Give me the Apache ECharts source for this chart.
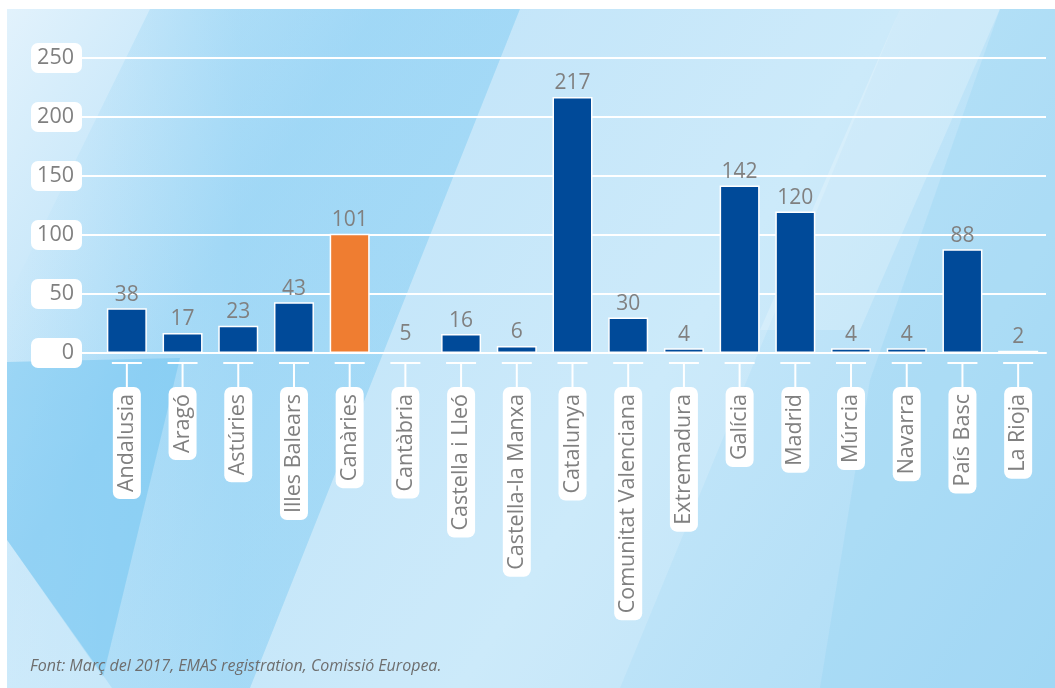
<!DOCTYPE html>
<html>
<head>
<meta charset="utf-8">
<script src="https://cdn.jsdelivr.net/npm/echarts@6/dist/echarts.min.js"></script>
<style>
html,body{margin:0;padding:0;background:#fff;}
#chart{width:1055px;height:688px;}
</style>
</head>
<body>
<div id="chart"></div>
<script>
const categories = ['Andalusia','Aragó','Astúries','Illes Balears','Canàries','Cantàbria','Castella i Lleó','Castella-la Manxa','Catalunya','Comunitat Valenciana','Extremadura','Galícia','Madrid','Múrcia','Navarra','País Basc','La Rioja'];
const values = [38, 17, 23, 43, 101, 5, 16, 6, 217, 30, 4, 142, 120, 4, 4, 88, 2];
const yTicks = [0, 50, 100, 150, 200, 250];
const highlighted = ['Canàries'];
const hiddenBars = ['Cantàbria'];
const sourceNote = 'Font: Març del 2017, EMAS registration, Comissió Europea.';

const BLUE = '#004a99';
const ORANGE = '#ef7d31';
const GREY = '#808080';
const FONT = '"Open Sans", "Noto Sans", sans-serif';

const barData = categories.map((c, i) => {
  const item = { value: values[i] };
  if (highlighted.includes(c)) item.itemStyle = { color: ORANGE };
  if (hiddenBars.includes(c)) item.itemStyle = { color: 'rgba(0,0,0,0)', borderColor: 'rgba(0,0,0,0)' };
  return item;
});

const chart = echarts.init(document.getElementById('chart'), null, { renderer: 'canvas' });
chart.setOption({
  animation: false,
  backgroundColor: '#ffffff',
  graphic: [
    { type: 'rect', z: -20, silent: true, shape: { x: 7, y: 9, width: 1048, height: 679 },
      style: { fill: new echarts.graphic.LinearGradient(0, 0, 1, 1, [
        { offset: 0, color: '#e2f2fc' }, { offset: 0.25, color: '#b6e0f8' },
        { offset: 0.6, color: '#c3e6f9' }, { offset: 1, color: '#a9daf5' }]) } },
    { type: 'polygon', z: -19, silent: true, shape: { points: [[150,9],[520,9],[250,688],[7,688],[7,300]] },
      style: { fill: new echarts.graphic.LinearGradient(0, 0, 1, 0, [
        { offset: 0, color: 'rgba(120,200,242,0)' }, { offset: 0.45, color: 'rgba(120,200,242,0.35)' },
        { offset: 1, color: 'rgba(120,200,242,0.35)' }]) } },
    { type: 'polygon', z: -19, silent: true, shape: { points: [[520,9],[900,9],[620,688],[250,688]] },
      style: { fill: 'rgba(255,255,255,0.16)' } },
    { type: 'polygon', z: -19, silent: true, shape: { points: [[900,9],[1000,9],[860,330],[760,330]] },
      style: { fill: 'rgba(255,255,255,0.22)' } },
    { type: 'polygon', z: -19, silent: true, shape: { points: [[1000,9],[1055,9],[1055,688],[820,688],[870,380]] },
      style: { fill: 'rgba(130,205,243,0.22)' } },
    { type: 'polygon', z: -19, silent: true, shape: { points: [[7,362],[180,358],[103,677],[7,540]] },
      style: { fill: 'rgba(105,192,240,0.45)' } },
    { type: 'polygon', z: -18, silent: true, shape: { points: [[7,540],[112,688],[7,688]] },
      style: { fill: 'rgba(255,255,255,0.3)' } },
    { type: 'text', z: 10, left: 30, top: 658, silent: true,
      style: { text: sourceNote, fill: '#6e6e6e', font: 'italic 16px ' + FONT } }
  ],
  grid: { left: 99, right: 9, top: 58, bottom: 335, containLabel: false, outerBoundsMode: 'none' },
  xAxis: {
    type: 'category',
    data: categories,
    axisLine: { show: true, lineStyle: { color: '#ffffff', width: 2 } },
    axisTick: { show: false },
    axisLabel: {
      rotate: 90,
      interval: 0,
      margin: 34,
      color: GREY,
      fontFamily: FONT,
      fontSize: 21.5,
      lineHeight: 22,
      backgroundColor: '#ffffff',
      borderRadius: 7,
      padding: [3, 7, 3, 7]
    }
  },
  yAxis: {
    type: 'value',
    min: 0,
    max: 250,
    interval: 50,
    axisLine: { show: false },
    axisTick: { show: true, length: 17, lineStyle: { color: '#ffffff', width: 2 } },
    splitLine: { show: true, lineStyle: { color: '#ffffff', width: 2 } },
    axisLabel: {
      margin: 17,
      color: GREY,
      fontFamily: FONT,
      fontSize: 21.5,
      lineHeight: 22,
      width: 37,
      align: 'right',
      backgroundColor: '#ffffff',
      borderRadius: 7,
      padding: [4, 8, 4, 6],
      formatter: v => yTicks.includes(v) ? String(v) : ''
    }
  },
  series: [
    {
      type: 'bar',
      data: barData,
      barWidth: 40,
      z: 3,
      itemStyle: { color: BLUE, borderColor: '#ffffff', borderWidth: 1.5 },
      label: { show: true, position: 'top', distance: 3, color: GREY, fontFamily: FONT, fontSize: 21 }
    },
    {
      type: 'scatter',
      data: categories.map(c => [c, 0]),
      symbol: 'path://M0,0H30V2H16V26H14V2H0Z',
      symbolSize: [30, 26],
      symbolOffset: [0, 22],
      itemStyle: { color: '#ffffff', opacity: 1 },
      silent: true,
      clip: false,
      z: 2
    }
  ]
});
</script>
</body>
</html>
